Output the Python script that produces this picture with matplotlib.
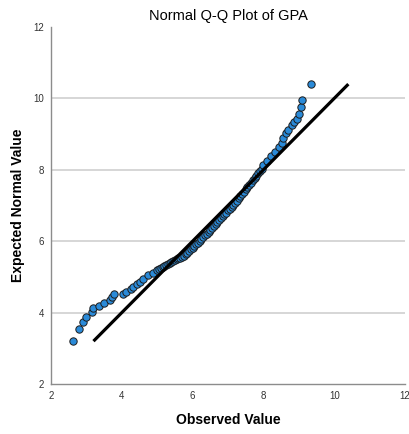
import matplotlib
matplotlib.use("Agg")
import matplotlib.pyplot as plt

plt.rcParams['font.family'] = ['Liberation Sans', 'DejaVu Sans']

observed = [2.61, 2.80, 2.89, 2.99, 3.16, 3.20, 3.36, 3.49, 3.67, 3.73, 3.79,
            4.03, 4.11, 4.25, 4.33, 4.42, 4.51, 4.61, 4.75, 4.89,
            5.00, 5.05, 5.10, 5.15, 5.20, 5.25, 5.30, 5.35, 5.40, 5.45,
            5.50, 5.55, 5.60, 5.65, 5.70, 5.75, 5.80, 5.85, 5.90, 5.95,
            6.00, 6.05, 6.10, 6.15, 6.20, 6.25, 6.30, 6.35, 6.40, 6.45,
            6.50, 6.55, 6.60, 6.65, 6.70, 6.75, 6.80, 6.85, 6.90, 6.95,
            7.00, 7.05, 7.10, 7.15, 7.20, 7.25, 7.30, 7.35, 7.40, 7.45,
            7.50, 7.55, 7.60, 7.65, 7.70, 7.75, 7.80, 7.85, 7.90, 7.95,
            8.00, 8.09, 8.21, 8.33, 8.45, 8.52, 8.56, 8.63, 8.70, 8.80,
            8.87, 8.94, 9.01, 9.05, 9.10, 9.34]
expected = [3.21, 3.54, 3.74, 3.87, 4.01, 4.12, 4.19, 4.26, 4.35, 4.45, 4.51,
            4.53, 4.57, 4.65, 4.73, 4.79, 4.87, 4.93, 5.05, 5.12,
            5.19, 5.21, 5.24, 5.27, 5.30, 5.33, 5.36, 5.39, 5.42, 5.44,
            5.47, 5.50, 5.52, 5.54, 5.56, 5.59, 5.63, 5.68, 5.72, 5.77,
            5.82, 5.86, 5.91, 5.95, 6.00, 6.05, 6.11, 6.16, 6.21, 6.27,
            6.32, 6.37, 6.43, 6.48, 6.53, 6.59, 6.64, 6.70, 6.75, 6.80,
            6.86, 6.91, 6.97, 7.02, 7.08, 7.14, 7.20, 7.26, 7.32, 7.38,
            7.45, 7.51, 7.58, 7.64, 7.71, 7.77, 7.84, 7.90, 7.96, 8.02,
            8.13, 8.26, 8.39, 8.51, 8.63, 8.74, 8.88, 9.02, 9.12, 9.26,
            9.35, 9.42, 9.55, 9.75, 9.96, 10.41]

# reference line ends
line_x = [3.2, 10.4]
line_y = [3.2, 10.4]

fig = plt.figure(figsize=(4.09, 4.34), dpi=100)
ax = fig.add_axes([0.1247, 0.1152, 0.8655, 0.8226])

ax.set_xlim(2, 12)
ax.set_ylim(2, 12)
ax.set_xticks([2, 4, 6, 8, 10, 12])
ax.set_yticks([2, 4, 6, 8, 10, 12])

for gy in [4, 6, 8, 10]:
    ax.axhline(gy, color="#cfcfcf", lw=1.2, zorder=0)

ax.scatter(observed, expected, s=28, color="#2a8ad8", edgecolors="#1c1c1c",
           linewidths=0.7, zorder=3)
ax.plot(line_x, line_y, color="black", lw=2.3, zorder=4, solid_capstyle="butt")

for side in ["top", "right"]:
    ax.spines[side].set_visible(False)
for side in ["left", "bottom"]:
    ax.spines[side].set_color("#8c8c8c")
    ax.spines[side].set_linewidth(1.0)

ax.tick_params(length=0, labelsize=7, colors="#333333", pad=5)

ax.set_title("Normal Q-Q Plot of GPA", fontsize=10.5, pad=5)
ax.set_xlabel("Observed Value", fontsize=10, fontweight="bold", labelpad=9)
ax.set_ylabel("Expected Normal Value", fontsize=10, fontweight="bold", labelpad=6)

plt.savefig("out.png", dpi=100)
plt.close()
